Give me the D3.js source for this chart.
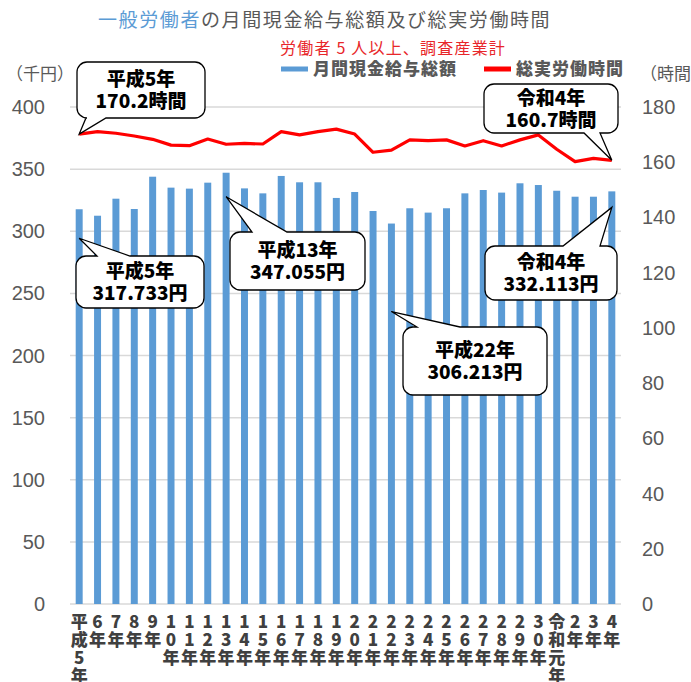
<!DOCTYPE html>
<html>
<head>
<meta charset="utf-8">
<title>月間現金給与総額及び総実労働時間</title>
<script src="https://cdn.jsdelivr.net/npm/d3@7"></script>
<style>
body { margin: 0; background: #fff; }
text { font-family: "Noto Sans CJK JP", "Noto Sans", sans-serif; }
.tick-num { font-family: "Liberation Sans", Arial, sans-serif; font-size: 20px; fill: #595959; }
.callout text { font-weight: 900; font-size: 19px; fill: #000; }
</style>
</head>
<body>
<div id="chart"></div>
<script>
// years (平成5年 .. 令和4年)
var years = ["平成5年","6年","7年","8年","9年","10年","11年","12年","13年","14年",
  "15年","16年","17年","18年","19年","20年","21年","22年","23年","24年",
  "25年","26年","27年","28年","29年","30年","令和元年","2年","3年","4年"];
// 月間現金給与総額 (千円)
var wages = [317.7,312.5,326.2,317.9,343.9,335.1,334.3,339.1,347.1,334.5,
  330.5,344.5,339.4,339.4,326.8,331.6,316.3,306.2,318.5,315.0,
  318.5,330.5,333.2,331.1,338.6,337.2,332.6,327.8,327.8,332.1];
// 総実労働時間 (時間)
var hours = [170.2,171.1,170.5,169.5,168.3,166.2,166.0,168.4,166.5,166.8,
  166.6,171.1,169.9,171.1,172.0,170.2,163.6,164.4,168.1,167.8,
  168.1,165.9,167.8,165.9,168.1,169.9,164.7,160.2,161.4,160.7];
var leftTicks = [0,50,100,150,200,250,300,350,400];
var rightTicks = [0,20,40,60,80,100,120,140,160,180];

var W = 691, H = 682;
var m = {left: 70, right: 621, top: 107, bottom: 604};

var svg = d3.select("#chart").append("svg").attr("width", W).attr("height", H);

var x = d3.scaleBand().domain(d3.range(years.length)).range([m.left, m.right]).paddingInner(0.62).paddingOuter(0.31);
var yL = d3.scaleLinear().domain([0, 400]).range([m.bottom, m.top]);
var yR = d3.scaleLinear().domain([0, 180]).range([m.bottom, m.top]);

// gridlines
svg.append("g").selectAll("line").data(leftTicks).enter().append("line")
  .attr("x1", m.left).attr("x2", m.right)
  .attr("y1", function(d) { return yL(d); }).attr("y2", function(d) { return yL(d); })
  .attr("stroke", "#d9d9d9").attr("stroke-width", 1.5);

// left tick labels
svg.append("g").selectAll("text").data(leftTicks).enter().append("text")
  .attr("class", "tick-num")
  .attr("x", 45).attr("y", function(d) { return yL(d) + 7; })
  .attr("text-anchor", "end").text(function(d) { return d; });

// right tick labels
svg.append("g").selectAll("text").data(rightTicks).enter().append("text")
  .attr("class", "tick-num")
  .attr("x", 642).attr("y", function(d) { return yR(d) + 7; })
  .text(function(d) { return d; });

// bars
svg.append("g").selectAll("rect").data(wages).enter().append("rect")
  .attr("x", function(d, i) { return x(i); })
  .attr("width", x.bandwidth())
  .attr("y", function(d) { return yL(d); })
  .attr("height", function(d) { return yL(0) - yL(d); })
  .attr("fill", "#5b9bd5");

// line
var line = d3.line()
  .x(function(d, i) { return x(i) + x.bandwidth() / 2; })
  .y(function(d) { return yR(d); });
svg.append("path").datum(hours).attr("d", line)
  .attr("fill", "none").attr("stroke", "#ff0000").attr("stroke-width", 3.2)
  .attr("stroke-linejoin", "round");

// x labels, characters stacked vertically
var xl = svg.append("g");
years.forEach(function(lab, i) {
  var chars = Array.from(lab);
  chars.forEach(function(c, j) {
    xl.append("text")
      .attr("x", x(i) + x.bandwidth() / 2)
      .attr("y", 628 + j * 18)
      .attr("text-anchor", "middle")
      .attr("font-size", 17).attr("font-weight", 900)
      .attr("fill", "#404040")
      .text(c);
  });
});

// title
var t = svg.append("text").attr("x", 98).attr("y", 27).attr("font-size", 19).attr("letter-spacing", 1.6);
t.append("tspan").attr("fill", "#5b9bd5").text("一般労働者");
t.append("tspan").attr("fill", "#595959").text("の月間現金給与総額及び総実労働時間");

svg.append("text").attr("x", 280).attr("y", 54).attr("font-size", 16).attr("fill", "#e8262a")
  .attr("letter-spacing", 1.2).text("労働者 5 人以上、調査産業計");

// legend
svg.append("line").attr("x1", 281).attr("x2", 308).attr("y1", 69).attr("y2", 69)
  .attr("stroke", "#5b9bd5").attr("stroke-width", 5);
svg.append("text").attr("x", 313).attr("y", 75).attr("font-size", 17).attr("font-weight", 900)
  .attr("fill", "#595959").attr("letter-spacing", 1).text("月間現金給与総額");
svg.append("line").attr("x1", 484).attr("x2", 511).attr("y1", 69).attr("y2", 69)
  .attr("stroke", "#ff0000").attr("stroke-width", 5);
svg.append("text").attr("x", 516).attr("y", 75).attr("font-size", 17).attr("font-weight", 900)
  .attr("fill", "#595959").attr("letter-spacing", 1).text("総実労働時間");

// axis unit labels
svg.append("text").attr("x", 6).attr("y", 80).attr("font-size", 17).attr("fill", "#595959").text("（千円）");
svg.append("text").attr("x", 640).attr("y", 80).attr("font-size", 17).attr("fill", "#595959").text("（時間）");

// callouts
function calloutPath(bx, by, bw, bh, side, b1, b2, tx, ty) {
  var r = 10, p = d3.path();
  p.moveTo(bx + r, by);
  if (side == "top") { p.lineTo(b1, by); p.lineTo(tx, ty); p.lineTo(b2, by); }
  p.lineTo(bx + bw - r, by);
  p.arcTo(bx + bw, by, bx + bw, by + r, r);
  p.lineTo(bx + bw, by + bh - r);
  p.arcTo(bx + bw, by + bh, bx + bw - r, by + bh, r);
  if (side == "bottom") { p.lineTo(b2, by + bh); p.lineTo(tx, ty); p.lineTo(b1, by + bh); }
  p.lineTo(bx + r, by + bh);
  p.arcTo(bx, by + bh, bx, by + bh - r, r);
  p.lineTo(bx, by + r);
  p.arcTo(bx, by, bx + r, by, r);
  p.closePath();
  return p.toString();
}

// dy: how far below the data point the tail tip sits
var callouts = [
  {box: [77, 62, 128, 56], side: "bottom", base: [86, 106], idx: 0, series: "hours", dy: 0, l1: "平成5年", l2: "170.2時間"},
  {box: [484, 84, 134, 49], side: "bottom", base: [584, 600], idx: 29, series: "hours", dy: 0, l1: "令和4年", l2: "160.7時間"},
  {box: [76, 256, 128, 52], side: "top", base: [97, 130], idx: 0, series: "wages", dy: 29, l1: "平成5年", l2: "317.733円"},
  {box: [230, 232, 135, 58], side: "top", base: [252, 287], idx: 8, series: "wages", dy: 24, l1: "平成13年", l2: "347.055円"},
  {box: [485, 246, 132, 54], side: "top", base: [563, 600], idx: 29, series: "wages", dy: 16, l1: "令和4年", l2: "332.113円"},
  {box: [403, 327, 144, 68], side: "top", base: [417, 460], idx: 17, series: "wages", dy: 88, l1: "平成22年", l2: "306.213円"}
];

callouts.forEach(function(c) {
  var cx = x(c.idx) + x.bandwidth() / 2;
  var cy = (c.series == "hours" ? yR(hours[c.idx]) : yL(wages[c.idx])) + c.dy;
  var g = svg.append("g").attr("class", "callout");
  g.append("path")
    .attr("d", calloutPath(c.box[0], c.box[1], c.box[2], c.box[3], c.side, c.base[0], c.base[1], cx, cy))
    .attr("fill", "#fff").attr("stroke", "#000").attr("stroke-width", 1.3);
  var mx = c.box[0] + c.box[2] / 2, my = c.box[1] + c.box[3] / 2;
  g.append("text").attr("x", mx).attr("y", my - 4).attr("text-anchor", "middle").text(c.l1);
  g.append("text").attr("x", mx).attr("y", my + 18).attr("text-anchor", "middle").text(c.l2);
});
</script>
</body>
</html>
